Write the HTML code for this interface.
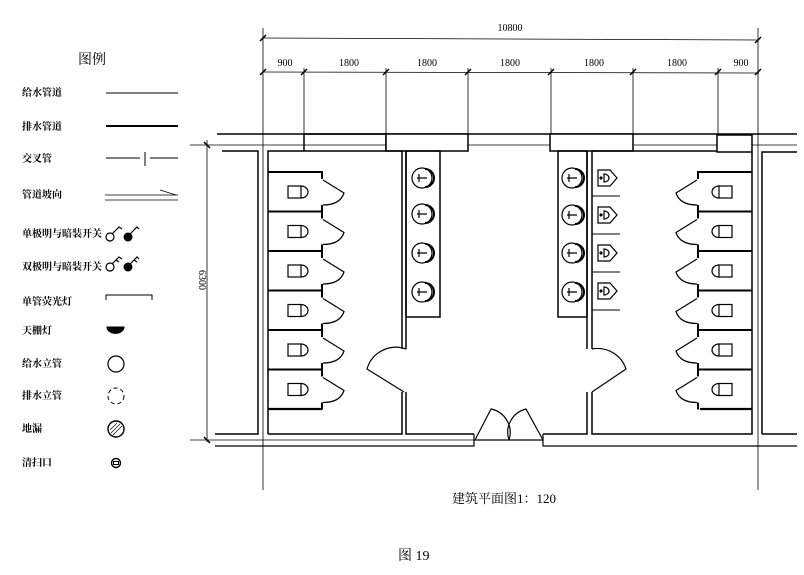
<!DOCTYPE html>
<html><head><meta charset="utf-8"><style>
html,body{margin:0;padding:0;background:#fff;}
svg{display:block;}
text{font-family:"Liberation Serif","Noto Serif CJK SC",serif;fill:#000;}
.cj{font-family:"Liberation Serif","Noto Serif CJK SC","Noto Sans CJK SC",serif;}
</style></head><body>
<svg width="804" height="575" viewBox="0 0 804 575" xmlns="http://www.w3.org/2000/svg">
<defs>
<g id="stall" fill="none" stroke="#000">
  <path d="M0 0 H54 V7" stroke-width="2"/>
  <path d="M55 8 L76 21 Q72 33 55 33" stroke-width="1.2"/>
  <path d="M54 33 V40" stroke-width="2"/>
  <rect x="20" y="14" width="13" height="12" stroke-width="1.2"/>
  <path d="M33 14 A7 6 0 0 1 33 26" stroke-width="1.2"/>
</g>
<g id="sink" fill="none" stroke="#000" stroke-width="1.2">
  <circle r="10"/>
  <path d="M3 -9 A9 9 0 0 1 3 9" stroke-width="2"/>
  <path d="M-3 -4 V4 M-5 0 H5" stroke-width="1.2"/>
</g>
<g id="uri" fill="none" stroke="#000" stroke-width="1.2">
  <path d="M0 -8 H12 L19 0 L12 8 H0 Z"/>
  <path d="M6 -4 A5 4 0 0 1 6 4 Z"/>
  <circle cx="3" cy="0" r="1" fill="#000"/>
</g>
</defs>

<!-- dimensions -->
<g stroke="#000" stroke-width="0.8" fill="none">
  <line x1="263" y1="38" x2="759" y2="40"/>
  <line x1="263" y1="72" x2="759" y2="73"/>
  <line x1="263" y1="28" x2="263" y2="490"/>
  <line x1="758" y1="28" x2="758" y2="490"/>
  <line x1="304" y1="68" x2="304" y2="134"/>
  <line x1="386" y1="68" x2="386" y2="134"/>
  <line x1="468" y1="68" x2="468" y2="134"/>
  <line x1="551" y1="68" x2="551" y2="134"/>
  <line x1="633" y1="68" x2="633" y2="134"/>
  <line x1="718" y1="68" x2="718" y2="134"/>
  <g stroke-width="1.5">
    <path d="M260 41 L266 35 M755 43 L761 37"/>
    <path d="M260 75 L266 69 M301 75 L307 69 M383 75 L389 69 M465 75 L471 69 M548 75 L554 69 M630 75 L636 69 M715 75 L721 69 M755 75 L761 69"/>
    <path d="M204 142 L210 148 M204 437 L210 443"/>
  </g>
  <line x1="207" y1="140" x2="207" y2="442"/>
  <line x1="190" y1="145" x2="305" y2="145"/>
  <line x1="190" y1="440" x2="474" y2="440"/>
</g>
<text x="510" y="31" font-size="10" text-anchor="middle">10800</text>
<g font-size="10" text-anchor="middle">
<text x="285" y="66">900</text><text x="349" y="66">1800</text><text x="427" y="66">1800</text>
<text x="510" y="66">1800</text><text x="594" y="66">1800</text><text x="677" y="66">1800</text><text x="741" y="66">900</text>
</g>
<text x="0" y="0" font-size="10" text-anchor="middle" transform="translate(199,280) rotate(90)">6300</text>

<!-- walls -->
<g stroke="#000" fill="none" stroke-width="1.5">
  <line x1="217" y1="134" x2="797" y2="134"/>
  <line x1="305" y1="145" x2="797" y2="145" stroke-width="0.8"/>
  <rect x="304" y="134" width="82" height="17" stroke-width="1.5"/>
  <rect x="386" y="134" width="82" height="17" fill="#fff"/>
  <rect x="550" y="134" width="83" height="17" fill="#fff"/>
  <rect x="717" y="135" width="35" height="17" fill="#fff"/>
  <path d="M222 151 H258 V434 H215"/>
  <path d="M268 434 V151 H304"/>
  <path d="M386 151 H402 V349"/>
  <path d="M402 392 V434 H268"/>
  <path d="M406 151 V349 M406 392 V434 H474"/>
  <rect x="406" y="151" width="34" height="166"/>
  <rect x="558" y="151" width="29" height="166"/>
  <path d="M587 151 V349 M587 392 V434 H543"/>
  <path d="M592 349 V151 H717 M752 152 V434 H592 V392"/>
  <path d="M762 434 V152 H797 M762 434 H797"/>
  <path d="M474 434 V446 H215 M543 434 V446 H797" stroke-width="1.2"/>
  <line x1="474" y1="440" x2="543" y2="440" stroke-width="1.2"/>
  <path d="M406 349 A30 30 0 0 0 367 369 L404 392" stroke-width="1.2"/>
  <path d="M592 349 A30 30 0 0 1 626 369 L592 392" stroke-width="1.2"/>
  <path d="M475 440 L491 409 A24 24 0 0 1 509 440" stroke-width="1.2"/>
  <path d="M543 440 L526 409 A24 24 0 0 0 509 440" stroke-width="1.2"/>
  <path d="M592 196 H620 M592 234 H620 M592 272 H620 M592 310 H620" stroke-width="1"/>
</g>
<g stroke="#000" stroke-width="2.2">
<line x1="268" y1="409" x2="322" y2="409"/>
<line x1="700" y1="409" x2="752" y2="409"/>
</g>
<use href="#stall" x="268" y="172"/><use href="#stall" x="268" y="211.5"/><use href="#stall" x="268" y="251"/>
<use href="#stall" x="268" y="290.5"/><use href="#stall" x="268" y="330"/><use href="#stall" x="268" y="369.5"/>
<g transform="translate(752,0) scale(-1,1)">
<use href="#stall" x="0" y="172"/><use href="#stall" x="0" y="211.5"/><use href="#stall" x="0" y="251"/>
<use href="#stall" x="0" y="290.5"/><use href="#stall" x="0" y="330"/><use href="#stall" x="0" y="369.5"/>
</g>
<use href="#sink" x="422" y="178"/><use href="#sink" x="422" y="214"/><use href="#sink" x="422" y="253"/><use href="#sink" x="422" y="292"/>
<use href="#sink" x="572" y="178"/><use href="#sink" x="572" y="215"/><use href="#sink" x="572" y="253"/><use href="#sink" x="572" y="292"/>
<use href="#uri" x="598" y="178"/><use href="#uri" x="598" y="215"/><use href="#uri" x="598" y="253"/><use href="#uri" x="598" y="291"/>

<!-- legend -->
<text x="78" y="64" font-size="14" class="cj">图例</text>
<g font-size="10" class="cj" font-weight="bold">
<text x="22" y="96">给水管道</text>
<text x="22" y="130">排水管道</text>
<text x="22" y="162">交叉管</text>
<text x="22" y="198">管道坡向</text>
<text x="22" y="237">单极明与暗装开关</text>
<text x="22" y="270">双极明与暗装开关</text>
<text x="22" y="305">单管荧光灯</text>
<text x="22" y="334">天棚灯</text>
<text x="22" y="367">给水立管</text>
<text x="22" y="399">排水立管</text>
<text x="22" y="432">地漏</text>
<text x="22" y="466">清扫口</text>
</g>
<g stroke="#000" fill="none">
<line x1="106" y1="93" x2="178" y2="93" stroke-width="1"/>
<line x1="106" y1="126" x2="178" y2="126" stroke-width="2"/>
<path d="M106 158 H140 M145 152 V166 M150 158 H178" stroke-width="1"/>
<path d="M105 195 H178 M105 200 H178 M160 190 L176 195" stroke-width="0.8"/>
<circle cx="110" cy="237" r="4" stroke-width="1.2"/>
<path d="M112 234 L119 227 L122 229" stroke-width="1.2"/>
<circle cx="128" cy="237" r="4" fill="#000"/>
<path d="M130 234 L137 227 L139 229" stroke-width="1.2"/>
<circle cx="110" cy="267" r="4" stroke-width="1.2"/>
<path d="M112 264 L119 257 L122 259 M116 260 L119 262" stroke-width="1.2"/>
<circle cx="128" cy="267" r="4" fill="#000"/>
<path d="M130 264 L137 257 L139 259 M134 260 L137 262" stroke-width="1.2"/>
<path d="M106 300 V295 H152 V300" stroke-width="1"/>
<path d="M107 327 H124 A8 6 0 0 1 107 327 Z" fill="#000"/>
<circle cx="116" cy="364" r="8" stroke-width="1.2"/>
<circle cx="116" cy="396" r="8" stroke-width="1" stroke-dasharray="4 3"/>
<circle cx="116" cy="429" r="8" stroke-width="1.4"/>
<path d="M111 433 L120 424 M113 435 L122 426 M110 430 L117 423" stroke-width="0.6"/>
<circle cx="116" cy="463" r="4.5" stroke-width="1.4"/>
<rect x="113.5" y="461.5" width="5" height="3" stroke-width="1"/>
</g>

<text x="452" y="503" font-size="13" class="cj">建筑平面图1：120</text>
<text x="398" y="560" font-size="14" class="cj">图 19</text>
</svg>
</body></html>
